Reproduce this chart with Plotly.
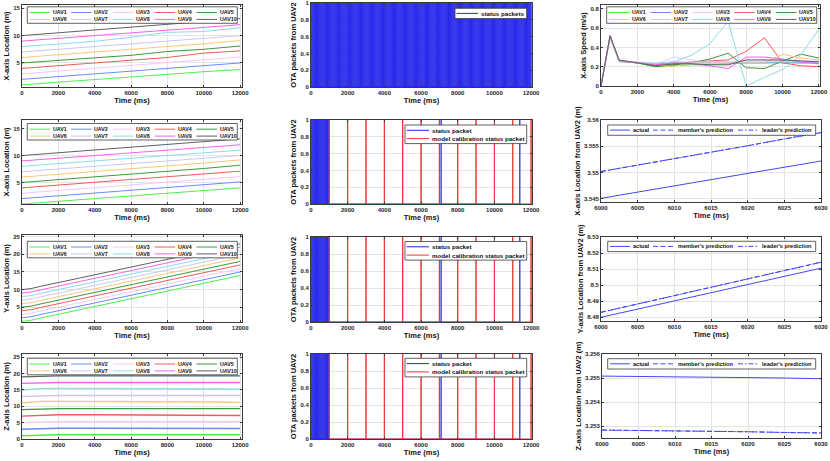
import plotly.graph_objects as go

W, H = 830, 461
FONT = "Liberation Sans, Arial, Helvetica, sans-serif"

# ---------------- data ----------------
uav_names = ["UAV1", "UAV2", "UAV3", "UAV4", "UAV5",
             "UAV6", "UAV7", "UAV8", "UAV9", "UAV10"]
uav_colors = ["#4cf04c", "#6b8cf0", "#f7c6f7", "#f05a5a", "#3c9a3c",
              "#f8c87a", "#c8c8f5", "#8cdce6", "#f064f0", "#606060"]

# X-axis location, run shown in panel (1,1)
t_xloc_ms = [0, 2000, 4000, 6000, 8000, 10000, 12000]
x_location_a = [
    [1.0, 1.5, 2.0, 2.5, 3.0, 3.4, 3.8],
    [2.0, 2.5, 3.0, 3.5, 4.0, 4.5, 5.0],
    [3.0, 3.5, 4.0, 4.6, 5.1, 5.6, 6.1],
    [4.0, 4.5, 4.9, 5.4, 6.0, 6.8, 7.2],
    [5.0, 5.5, 5.9, 6.4, 7.1, 7.5, 8.1],
    [6.0, 6.5, 6.9, 7.4, 7.9, 8.5, 9.1],
    [7.0, 7.5, 8.0, 8.5, 9.0, 9.5, 10.0],
    [8.0, 8.5, 8.95, 9.7, 10.6, 10.75, 11.45],
    [9.0, 9.5, 9.9, 10.4, 10.9, 11.5, 12.0],
    [10.0, 10.5, 11.0, 11.5, 12.0, 12.6, 13.1],
]
# X-axis location, panel (2,1)
x_location_b = [
    [1.0, 1.5, 2.0, 2.5, 3.0, 3.5, 4.0],
    [2.0, 2.5, 3.0, 3.5, 4.0, 4.5, 5.1],
    [3.0, 3.5, 4.0, 4.5, 5.0, 5.5, 6.1],
    [4.0, 4.5, 5.0, 5.5, 6.0, 6.5, 7.1],
    [5.0, 5.5, 6.0, 6.6, 7.1, 7.6, 8.2],
    [6.0, 6.5, 7.0, 7.6, 8.1, 8.6, 9.2],
    [7.0, 7.5, 8.0, 8.5, 9.0, 9.5, 10.0],
    [8.0, 8.5, 9.0, 9.5, 10.0, 10.5, 11.0],
    [9.0, 9.5, 10.0, 10.5, 11.0, 11.5, 12.0],
    [10.0, 10.5, 11.0, 11.6, 12.1, 12.6, 13.1],
]
# Y-axis location, panel (3,1)
t_yloc_ms = [0, 500, 1000, 2000, 4000, 6000, 8000, 10000, 12000]
y_location = [
    [1.0, 1.3, 1.9, 3.0, 5.2, 7.4, 9.6, 11.8, 14.0],
    [2.0, 2.3, 2.9, 4.0, 6.2, 8.4, 10.6, 12.8, 15.0],
    [3.0, 3.3, 3.9, 5.0, 7.2, 9.4, 11.6, 13.8, 16.0],
    [4.0, 4.3, 4.9, 6.0, 8.2, 10.4, 12.6, 14.8, 17.0],
    [5.0, 5.3, 5.9, 7.0, 9.2, 11.4, 13.6, 15.8, 18.0],
    [6.0, 6.3, 6.9, 8.0, 10.2, 12.4, 14.6, 16.8, 19.0],
    [7.0, 7.3, 7.9, 9.0, 11.2, 13.4, 15.6, 17.8, 20.0],
    [8.0, 8.3, 8.9, 10.0, 12.2, 14.4, 16.6, 18.8, 21.0],
    [9.0, 9.3, 9.9, 11.0, 13.2, 15.4, 17.6, 19.8, 22.0],
    [10.0, 10.3, 10.9, 12.0, 14.2, 16.4, 18.6, 20.8, 23.0],
]
# Z-axis location, panel (4,1)
t_zloc_ms = [0, 500, 1000, 2000, 4000, 6000, 8000, 10000, 11000, 12000]
z_location = [
    [1.0, 1.1, 1.3, 1.3, 1.3, 1.3, 1.3, 1.3, 1.3, 1.3],
    [3.0, 3.1, 3.3, 3.3, 3.3, 3.3, 3.3, 3.3, 3.3, 3.2],
    [5.0, 5.1, 5.3, 5.3, 5.3, 5.3, 5.3, 5.3, 5.3, 5.3],
    [7.0, 7.1, 7.4, 7.4, 7.4, 7.4, 7.4, 7.4, 7.3, 7.2],
    [9.0, 9.1, 9.3, 9.3, 9.3, 9.3, 9.3, 9.3, 9.3, 9.3],
    [11.0, 11.2, 11.5, 11.5, 11.5, 11.5, 11.5, 11.5, 11.3, 11.2],
    [13.0, 13.1, 13.3, 13.3, 13.3, 13.3, 13.3, 13.3, 13.3, 13.3],
    [15.0, 15.2, 15.4, 15.5, 15.5, 15.5, 15.4, 15.4, 15.3, 15.2],
    [17.0, 17.1, 17.3, 17.3, 17.3, 17.3, 17.3, 17.3, 17.3, 17.3],
    [19.0, 19.1, 19.3, 19.3, 19.3, 19.3, 19.3, 19.3, 19.3, 19.3],
]
# X-axis speed, panel (1,3)
t_speed_ms = [0, 500, 1000, 2000, 3000, 4000, 5000, 6000, 7000, 8000, 9000, 10000, 11000, 12000]
x_speed = [
    [0, 0.50, 0.25, 0.24, 0.20, 0.21, 0.22, 0.22, 0.23, 0.24, 0.24, 0.25, 0.24, 0.24],
    [0, 0.52, 0.26, 0.24, 0.23, 0.24, 0.24, 0.24, 0.24, 0.24, 0.24, 0.24, 0.24, 0.24],
    [0, 0.52, 0.26, 0.24, 0.22, 0.30, 0.27, 0.25, 0.24, 0.27, 0.27, 0.26, 0.26, 0.26],
    [0, 0.52, 0.26, 0.24, 0.22, 0.22, 0.25, 0.26, 0.27, 0.36, 0.50, 0.24, 0.21, 0.20],
    [0, 0.52, 0.26, 0.24, 0.20, 0.22, 0.24, 0.28, 0.34, 0.19, 0.18, 0.26, 0.33, 0.29],
    [0, 0.52, 0.26, 0.24, 0.22, 0.20, 0.24, 0.25, 0.25, 0.24, 0.24, 0.33, 0.29, 0.27],
    [0, 0.52, 0.26, 0.25, 0.24, 0.25, 0.25, 0.25, 0.25, 0.25, 0.25, 0.25, 0.25, 0.25],
    [0, 0.52, 0.26, 0.24, 0.23, 0.25, 0.32, 0.44, 0.67, 0.00, 0.09, 0.17, 0.32, 0.59],
    [0, 0.52, 0.26, 0.24, 0.22, 0.24, 0.23, 0.21, 0.18, 0.30, 0.30, 0.28, 0.25, 0.23],
    [0, 0.52, 0.27, 0.24, 0.21, 0.23, 0.23, 0.22, 0.22, 0.27, 0.27, 0.27, 0.26, 0.25],
]

# OTA packets from UAV2
status_period_ms = 50                      # spacing of periodic status packets
status_all_end_ms = 12000                  # panel (1,2): status packets over whole run
status_burst_end_ms = 950                  # rows 2-4: status packets only in first second
status_extra_ms = [7095, 11385]            # isolated status packets later on
calibration_ms = [1000, 2000, 3000, 4000, 5000, 6000, 7000, 8000, 9000, 10000, 11000, 12000]

# zoomed predictions (6000-6030 ms)
t_pred_ms = [6000, 6005, 6010, 6015, 6020, 6025, 6030]
x_actual = [3.5451, 3.5463, 3.5475, 3.5487, 3.5498, 3.5510, 3.5522]
x_member = [3.5502, 3.5514, 3.5527, 3.5539, 3.5551, 3.5564, 3.5576]
x_leader = [3.5502, 3.5514, 3.5527, 3.5539, 3.5551, 3.5564, 3.5576]
y_actual = [8.4800, 8.4851, 8.4902, 8.4953, 8.5004, 8.5055, 8.5106]
y_member = [8.4831, 8.4883, 8.4935, 8.4987, 8.5039, 8.5091, 8.5143]
y_leader = [8.4831, 8.4883, 8.4935, 8.4987, 8.5039, 8.5091, 8.5143]
z_actual = [3.25508, 3.25507, 3.25506, 3.25504, 3.25502, 3.25500, 3.25497]
z_member = [3.25283, 3.25282, 3.25280, 3.25278, 3.25276, 3.25273, 3.25271]
z_leader = [3.25283, 3.25282, 3.25280, 3.25278, 3.25276, 3.25273, 3.25271]

time_ticks = [0, 2000, 4000, 6000, 8000, 10000, 12000]
pred_time_ticks = [6000, 6005, 6010, 6015, 6020, 6025, 6030]
pkt_ticks = [0, 0.2, 0.4, 0.6, 0.8, 1]
pkt_ticktext = ["0", "0.2", "0.4", "0.6", "0.8", "1"]
speed_ticks = [0, 0.2, 0.4, 0.6, 0.8]
speed_ticktext = ["0", "0.2", "0.4", "0.6", "0.8"]
xpred_ticks = [3.545, 3.55, 3.555, 3.56]
xpred_ticktext = ["3.545", "3.55", "3.555", "3.56"]
ypred_ticks = [8.48, 8.49, 8.5, 8.51, 8.52, 8.53]
ypred_ticktext = ["8.48", "8.49", "8.5", "8.51", "8.52", "8.53"]
zpred_ticks = [3.253, 3.254, 3.255, 3.256]
zpred_ticktext = ["3.253", "3.254", "3.255", "3.256"]

# ---------------- figure ----------------
fig = go.Figure()

def ax_ids(n):
    return ("x" if n == 1 else f"x{n}"), ("y" if n == 1 else f"y{n}")

def add_uav_lines(n, t, series, width=1.0):
    xid, yid = ax_ids(n)
    for i, vals in enumerate(series):
        fig.add_trace(go.Scatter(x=t, y=vals, mode="lines", name=uav_names[i],
                                 line=dict(color=uav_colors[i], width=width),
                                 xaxis=xid, yaxis=yid, showlegend=False, hoverinfo="skip"))

def impulse_path(times):
    xs, ys = [], []
    for t in sorted(times):
        xs += [t, t, t]
        ys += [0, 1, 0]
    return xs, ys

BLUE_PKT = "rgb(35,35,235)"
RED_PKT = "rgb(235,55,55)"
PRED_BLUE = "#4646f0"

def add_packets(n, status_times, calib_times):
    xid, yid = ax_ids(n)
    sx, sy = impulse_path(status_times)
    fig.add_trace(go.Scatter(x=sx, y=sy, mode="lines", line=dict(color=BLUE_PKT, width=0.8),
                             xaxis=xid, yaxis=yid, showlegend=False, hoverinfo="skip"))
    if calib_times:
        cx, cy = impulse_path(calib_times)
        fig.add_trace(go.Scatter(x=cx, y=cy, mode="lines", line=dict(color=RED_PKT, width=1),
                                 xaxis=xid, yaxis=yid, showlegend=False, hoverinfo="skip"))

MEMBER_DASH = "5px,2.5px"
LEADER_DASH = "5px,2px,1.5px,2px"

def add_pred(n, actual, member, leader):
    xid, yid = ax_ids(n)
    fig.add_trace(go.Scatter(x=t_pred_ms, y=actual, mode="lines", line=dict(color=PRED_BLUE, width=1),
                             xaxis=xid, yaxis=yid, showlegend=False, hoverinfo="skip"))
    fig.add_trace(go.Scatter(x=t_pred_ms, y=member, mode="lines",
                             line=dict(color=PRED_BLUE, width=1, dash=MEMBER_DASH),
                             xaxis=xid, yaxis=yid, showlegend=False, hoverinfo="skip"))
    fig.add_trace(go.Scatter(x=t_pred_ms, y=leader, mode="lines",
                             line=dict(color=PRED_BLUE, width=1, dash=LEADER_DASH),
                             xaxis=xid, yaxis=yid, showlegend=False, hoverinfo="skip"))

status_all = list(range(0, status_all_end_ms + 1, status_period_ms))
status_burst = list(range(0, status_burst_end_ms + 1, status_period_ms)) + status_extra_ms

add_uav_lines(1, t_xloc_ms, x_location_a)
add_packets(2, status_all, None)
add_uav_lines(3, t_speed_ms, x_speed)
add_uav_lines(4, t_xloc_ms, x_location_b)
add_packets(5, status_burst, calibration_ms)
add_pred(6, x_actual, x_member, x_leader)
add_uav_lines(7, t_yloc_ms, y_location)
add_packets(8, status_burst, calibration_ms)
add_pred(9, y_actual, y_member, y_leader)
add_uav_lines(10, t_zloc_ms, z_location, width=1.4)
add_packets(11, status_burst, calibration_ms)
add_pred(12, z_actual, z_member, z_leader)

# ---------------- axes ----------------
C1, C2, C3 = (22, 242), (311, 532), (601, 821)
panels = [
    # x px, y px (top, bottom), xrange, xticks, yrange, yticks, yticktext, ytitle
    (C1, (5, 87), [0, 12100], time_ticks, [0.6, 15.6], [5, 10, 15], None, "X-axis Location (m)"),
    (C2, (3, 87), [0, 12050], time_ticks, [0, 1], pkt_ticks, pkt_ticktext, "OTA packets from UAV2"),
    ((601, 820), (5, 86), [0, 12060], time_ticks, [0, 0.84], speed_ticks, speed_ticktext, "X-axis Speed (m/s)"),
    (C1, (120, 204), [0, 12100], time_ticks, [1.0, 16.6], [5, 10, 15], None, "X-axis Location (m)"),
    (C2, (120, 204), [0, 12050], time_ticks, [0, 1], pkt_ticks, pkt_ticktext, "OTA packets from UAV2"),
    (C3, (120, 202), [6000, 6030], pred_time_ticks, [3.5444, 3.56], xpred_ticks, xpred_ticktext,
     "X-axis Location from UAV2 (m)"),
    (C1, (235, 322), [0, 12100], time_ticks, [0.8, 25.5], [5, 10, 15, 20, 25], None, "Y-axis Location (m)"),
    (C2, (237, 322), [0, 12050], time_ticks, [0, 1], pkt_ticks, pkt_ticktext, "OTA packets from UAV2"),
    (C3, (237, 321), [6000, 6030], pred_time_ticks, [8.4777, 8.53], ypred_ticks, ypred_ticktext,
     "Y-axis Location from UAV2 (m)"),
    (C1, (354, 439), [0, 12100], time_ticks, [0, 26], [0, 5, 10, 15, 20, 25], None, "Z-axis Location (m)"),
    (C2, (354, 439), [0, 12050], time_ticks, [0, 1], pkt_ticks, pkt_ticktext, "OTA packets from UAV2"),
    ((602, 821), (354, 438), [6000, 6030], pred_time_ticks, [3.2525, 3.256], zpred_ticks, zpred_ticktext,
     "Z-axis Location from UAV2 (m)"),
]

tickfont = dict(family=FONT, size=6, color="#262626", weight="bold")
titlefont = dict(family=FONT, size=7.5, color="#111111", weight="bold")
axis_style = dict(showline=True, linecolor="#3a3a3a", linewidth=0.8, mirror="ticks",
                  ticks="inside", ticklen=2.5, tickwidth=0.6, tickcolor="#3a3a3a",
                  showgrid=True, gridcolor="#e4e4e4", gridwidth=0.6, zeroline=False,
                  tickfont=tickfont, automargin=False, ticklabeloverflow="allow")

layout = {}
for n, (xp, yp, xr, xt, yr, yt, ytt, ytitle) in enumerate(panels, start=1):
    xid, yid = ax_ids(n)
    xa = "xaxis" if n == 1 else f"xaxis{n}"
    ya = "yaxis" if n == 1 else f"yaxis{n}"
    layout[xa] = dict(domain=[xp[0] / W, xp[1] / W], anchor=yid, range=xr,
                      tickmode="array", tickvals=xt, ticktext=[str(v) for v in xt],
                      title=dict(text="Time (ms)", font=titlefont, standoff=1), **axis_style)
    layout[ya] = dict(domain=[1 - yp[1] / H, 1 - yp[0] / H], anchor=xid, range=yr,
                      tickmode="array", tickvals=yt,
                      ticktext=ytt if ytt is not None else [str(v) for v in yt],
                      title=dict(text=ytitle, font=titlefont, standoff=2), **axis_style)

# ---------------- legends (drawn as boxes) ----------------
shapes, annotations = [], []

def PX(x):
    return x / W

def PY(y):
    return 1 - y / H

def add_rect(x0, y0, x1, y1):
    shapes.append(dict(type="rect", xref="paper", yref="paper", x0=PX(x0), x1=PX(x1),
                       y0=PY(y1), y1=PY(y0), line=dict(color="#3a3a3a", width=0.8),
                       fillcolor="white", layer="above"))

def add_sample(x0, x1, y, color, dash="solid", width=1.0):
    shapes.append(dict(type="line", xref="paper", yref="paper", x0=PX(x0), x1=PX(x1),
                       y0=PY(y), y1=PY(y), line=dict(color=color, width=width, dash=dash),
                       layer="above"))

def add_text(x, y, txt, size):
    annotations.append(dict(x=PX(x), y=PY(y), xref="paper", yref="paper", text=txt,
                            showarrow=False, xanchor="left", yanchor="middle", borderpad=0,
                            font=dict(family=FONT, size=size, color="#111111", weight="bold")))

def uav_legend(bx0, by0):
    add_rect(bx0, by0, bx0 + 210, by0 + 16.5)
    for k in range(10):
        col, row = k % 5, k // 5
        cx = bx0 + 2 + 41.8 * col
        cy = by0 + 5.7 + 6.9 * row
        add_sample(cx, cx + 20.5, cy, uav_colors[k])
        add_text(cx + 22.3, cy, uav_names[k], 5.3)

for bx0, by0 in [(27.3, 6.8), (27.3, 123.5), (27.3, 241.3), (27.3, 358.3), (606.7, 6.8)]:
    uav_legend(bx0, by0)

# packets legends
add_rect(455, 8.3, 526.7, 18.6)
add_sample(456.7, 478, 13.4, BLUE_PKT)
add_text(479.5, 13.4, "status packets", 6.2)
for by0 in [125, 241.5, 358.3]:
    add_rect(405, by0, 526.7, by0 + 18.6)
    add_sample(406.7, 429, by0 + 5.3, BLUE_PKT)
    add_text(430.5, by0 + 5.3, "status packet", 6.2)
    add_sample(406.7, 429, by0 + 13.6, RED_PKT)
    add_text(430.5, by0 + 13.6, "model calibration status packet", 6.2)

# prediction legends
for by0 in [125, 241.3, 358.7]:
    add_rect(607.7, by0, 815.7, by0 + 10.3)
    cy = by0 + 5.1
    add_sample(610, 630, cy, PRED_BLUE)
    add_text(631.8, cy, "actual", 5.6)
    add_sample(653, 675, cy, PRED_BLUE, MEMBER_DASH)
    add_text(676.8, cy, "member's prediction", 5.6)
    add_sample(738, 759, cy, PRED_BLUE, LEADER_DASH)
    add_text(761.3, cy, "leader's prediction", 5.6)

fig.update_layout(
    width=W, height=H, autosize=False, template="none",
    margin=dict(l=0, r=0, t=0, b=0, pad=0),
    paper_bgcolor="white", plot_bgcolor="white",
    font=dict(family=FONT, size=6, color="#222"),
    showlegend=False, shapes=shapes, annotations=annotations,
    **layout,
)

fig.write_html("out.html", include_plotlyjs=True, config={"displayModeBar": False},
               post_script="document.body.style.margin='0';document.body.style.overflow='hidden';")
